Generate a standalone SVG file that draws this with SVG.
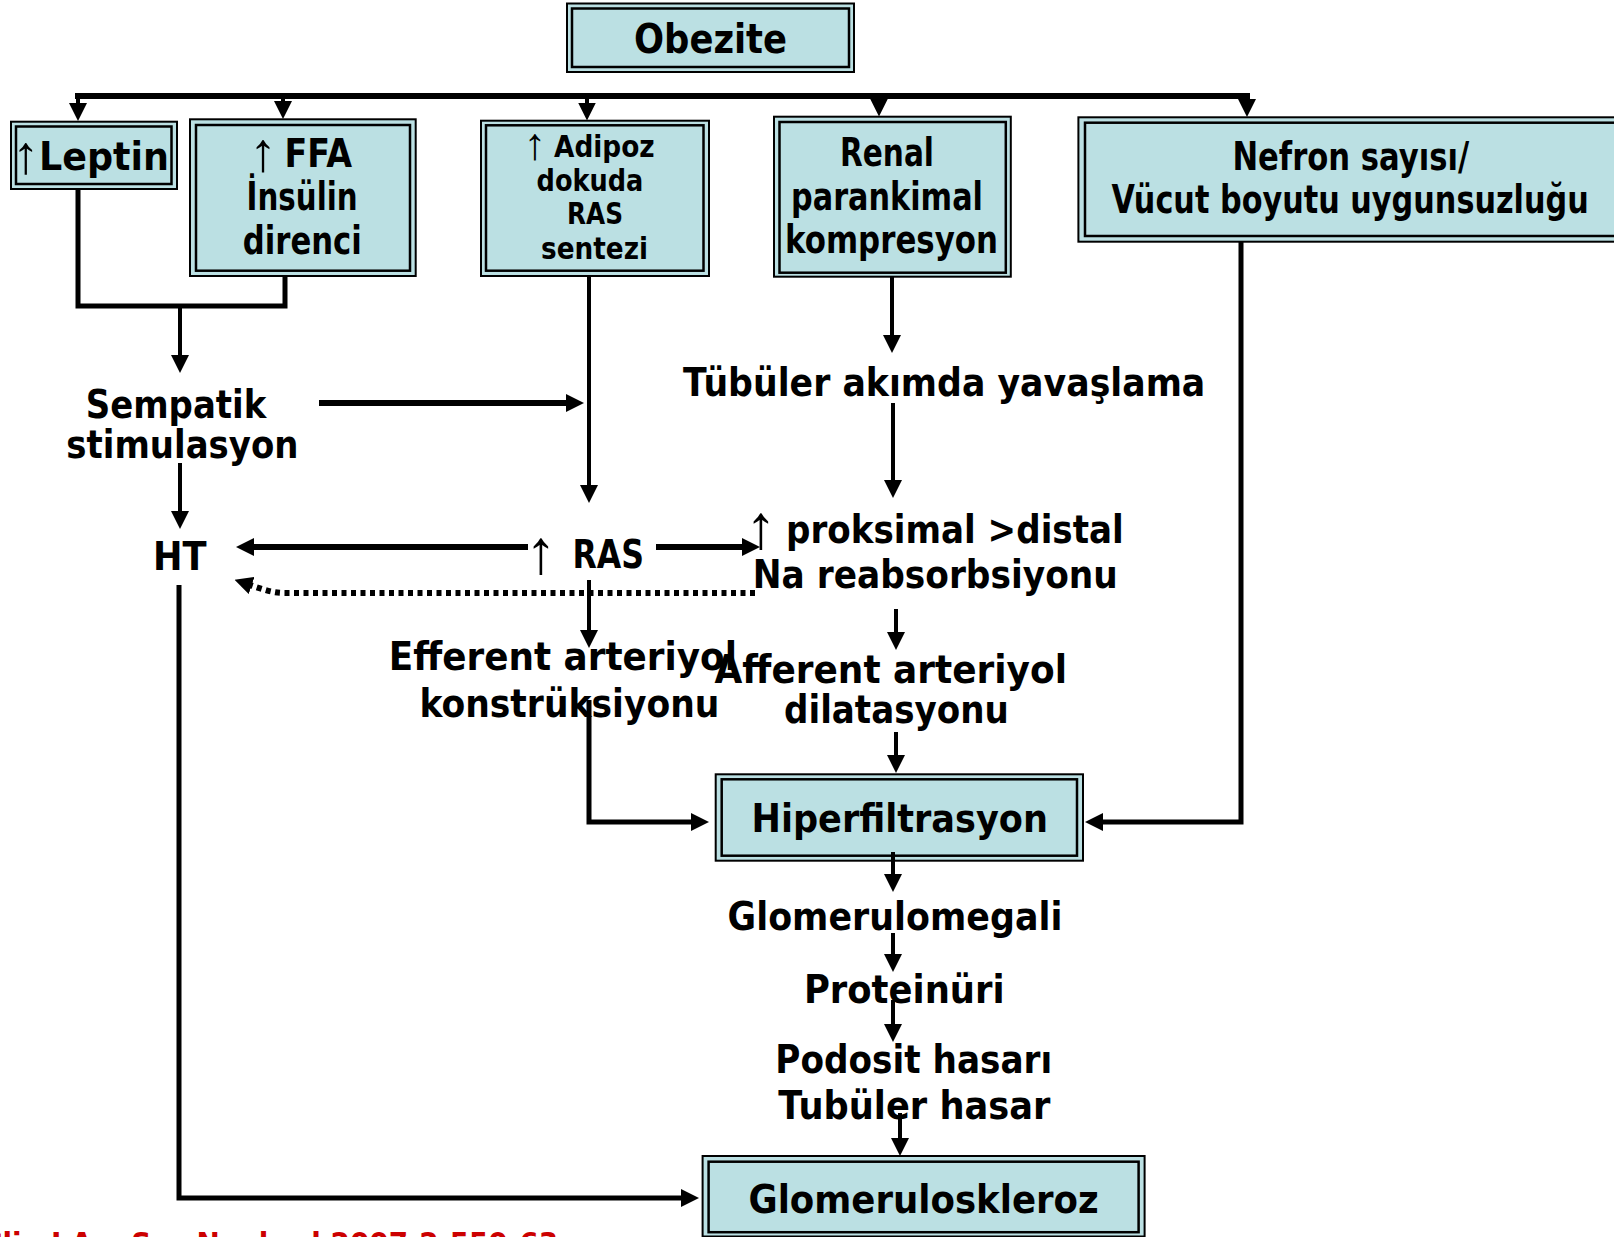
<svg xmlns="http://www.w3.org/2000/svg" width="1614" height="1237" viewBox="0 0 1614 1237">
  <style>
    rect.o { fill: #bbe0e3; stroke: #000; stroke-width: 2; }
    rect.i { fill: none; stroke: #000; stroke-width: 2.5; }
    text { font-family: "DejaVu Sans", "Liberation Sans", sans-serif; font-weight: bold; font-size: 39px; fill: #000; }
    text.sm { font-size: 31px; }
    text.up { font-family: "Liberation Sans", sans-serif; font-weight: normal; text-anchor: middle; }
    text.ref { font-size: 30px; fill: #cc0000; }
    .c { fill: none; stroke: #000; stroke-linejoin: miter; }
    .w6 { stroke-width: 6; }
    .w5 { stroke-width: 5; }
    .w4 { stroke-width: 4; }
    .dot { stroke-width: 6; stroke-dasharray: 5 4.5; }
  </style>
  <defs>
    <marker id="ah" viewBox="0 0 18 18" markerWidth="18" markerHeight="18" markerUnits="userSpaceOnUse" refX="8" refY="9" orient="auto">
      <path d="M0,0 L18,9 L0,18 Z" fill="#000"/>
    </marker>
  </defs>

  <rect width="1614" height="1237" fill="#fff"/>

  <!-- top node -->
  <g id="obezite">
    <rect class="o" x="567" y="3.5" width="287" height="68.5"/>
    <rect class="i" x="572" y="8.5" width="277" height="58.5"/>
    <text x="634" y="53.3" style="font-size:40px" textLength="153" lengthAdjust="spacingAndGlyphs">Obezite</text>
  </g>

  <!-- first row of causes -->
  <g id="leptin">
    <rect class="o" x="11" y="121.7" width="166" height="67.3"/>
    <rect class="i" x="16" y="126.5" width="155.5" height="57.5"/>
    <text class="up" x="26" y="173" style="font-size:54px">↑</text>
    <text x="39" y="170" textLength="130" lengthAdjust="spacingAndGlyphs">Leptin</text>
  </g>

  <g id="ffa">
    <rect class="o" x="190" y="119.3" width="225.7" height="156.7"/>
    <rect class="i" x="196" y="125" width="214" height="145.7"/>
    <text class="up" x="263" y="171" style="font-size:55px">↑</text>
    <text x="284.5" y="166.7" textLength="67.5" lengthAdjust="spacingAndGlyphs">FFA</text>
    <text x="246.6" y="210" textLength="111" lengthAdjust="spacingAndGlyphs">İnsülin</text>
    <text x="242.8" y="254" textLength="119" lengthAdjust="spacingAndGlyphs">direnci</text>
  </g>

  <g id="adipoz">
    <rect class="o" x="481" y="120.7" width="228" height="155.3"/>
    <rect class="i" x="486" y="125.3" width="217.5" height="145.4"/>
    <text class="up" x="535" y="159" style="font-size:45px">↑</text>
    <text class="sm" x="554" y="156.7" textLength="100.7" lengthAdjust="spacingAndGlyphs">Adipoz</text>
    <text class="sm" x="536.6" y="190.7" textLength="106.8" lengthAdjust="spacingAndGlyphs">dokuda</text>
    <text class="sm" x="567" y="224" textLength="56" lengthAdjust="spacingAndGlyphs">RAS</text>
    <text class="sm" x="541" y="259.3" textLength="107" lengthAdjust="spacingAndGlyphs">sentezi</text>
  </g>

  <g id="renal">
    <rect class="o" x="774" y="116.7" width="236.8" height="160"/>
    <rect class="i" x="779.5" y="122" width="226.3" height="150.7"/>
    <text x="840" y="166" textLength="94" lengthAdjust="spacingAndGlyphs">Renal</text>
    <text x="791" y="210" textLength="192" lengthAdjust="spacingAndGlyphs">parankimal</text>
    <text x="785" y="253" textLength="213" lengthAdjust="spacingAndGlyphs">kompresyon</text>
  </g>

  <g id="nefron">
    <rect class="o" x="1078.4" y="117.3" width="560" height="124.4"/>
    <rect class="i" x="1085" y="122.7" width="550" height="113.3"/>
    <text x="1232.4" y="170" textLength="236.9" lengthAdjust="spacingAndGlyphs">Nefron sayısı/</text>
    <text x="1111.5" y="213.3" textLength="477.3" lengthAdjust="spacingAndGlyphs">Vücut boyutu uygunsuzluğu</text>
  </g>

  <!-- intermediate states -->
  <g id="sempatik">
    <text x="85.7" y="418.3" textLength="180.6" lengthAdjust="spacingAndGlyphs">Sempatik</text>
    <text x="66.3" y="458.3" textLength="232.2" lengthAdjust="spacingAndGlyphs">stimulasyon</text>
  </g>

  <g id="tubuler-akim">
    <text x="683" y="396" textLength="522.3" lengthAdjust="spacingAndGlyphs">Tübüler akımda yavaşlama</text>
  </g>

  <g id="ht">
    <text x="153" y="570" textLength="53.6" lengthAdjust="spacingAndGlyphs">HT</text>
  </g>

  <g id="ras">
    <text class="up" x="541" y="573" style="font-size:62px">↑</text>
    <text x="572.4" y="568.3" textLength="71.6" lengthAdjust="spacingAndGlyphs">RAS</text>
  </g>

  <g id="na-reabsorbsiyon">
    <text class="up" x="761" y="548" style="font-size:62px">↑</text>
    <text x="786" y="543.3" textLength="337.7" lengthAdjust="spacingAndGlyphs">proksimal &gt;distal</text>
    <text x="752.7" y="588.3" textLength="365.1" lengthAdjust="spacingAndGlyphs">Na reabsorbsiyonu</text>
  </g>

  <g id="efferent">
    <text x="388.8" y="670" textLength="348.2" lengthAdjust="spacingAndGlyphs">Efferent arteriyol</text>
    <text x="419.4" y="716.7" textLength="300" lengthAdjust="spacingAndGlyphs">konstrüksiyonu</text>
  </g>

  <g id="afferent">
    <text x="714.5" y="683.3" textLength="352.5" lengthAdjust="spacingAndGlyphs">Afferent arteriyol</text>
    <text x="784" y="723.3" textLength="224.8" lengthAdjust="spacingAndGlyphs">dilatasyonu</text>
  </g>

  <g id="hiperfiltrasyon">
    <rect class="o" x="715.7" y="774.3" width="367.3" height="86.4"/>
    <rect class="i" x="721.7" y="779.3" width="355.3" height="76.4"/>
    <text x="751.5" y="831.7" textLength="296.5" lengthAdjust="spacingAndGlyphs">Hiperfiltrasyon</text>
  </g>

  <g id="glomerulomegali">
    <text x="727.6" y="930" textLength="334.8" lengthAdjust="spacingAndGlyphs">Glomerulomegali</text>
  </g>

  <g id="proteinuri">
    <text x="803.9" y="1003.3" textLength="200.7" lengthAdjust="spacingAndGlyphs">Proteinüri</text>
  </g>

  <g id="hasar">
    <text x="775.3" y="1073.3" textLength="276.9" lengthAdjust="spacingAndGlyphs">Podosit hasarı</text>
    <text x="778.3" y="1119" textLength="272.2" lengthAdjust="spacingAndGlyphs">Tubüler hasar</text>
  </g>

  <g id="glomeruloskleroz">
    <rect class="o" x="702.6" y="1156" width="442" height="80.5"/>
    <rect class="i" x="708.6" y="1161.7" width="430" height="70.5"/>
    <text x="748.5" y="1213.3" textLength="350.2" lengthAdjust="spacingAndGlyphs">Glomeruloskleroz</text>
  </g>

  <!-- citation along the lower edge -->
  <g id="reference">
    <text class="ref" x="-18" y="1254" textLength="576" lengthAdjust="spacingAndGlyphs">Clin J Am Soc Nephrol 2007;2:550-63</text>
  </g>

  <!-- connectors -->
  <g id="connectors">
    <path class="c w6" d="M75,96 H1250"/>
    <path class="c w4" d="M78,96 V111" marker-end="url(#ah)"/>
    <path class="c w4" d="M283,96 V109" marker-end="url(#ah)"/>
    <path class="c w4" d="M587,96 V110.5" marker-end="url(#ah)"/>
    <path class="c w4" d="M879,96 V106.5" marker-end="url(#ah)"/>
    <path class="c w4" d="M1247,96 V107" marker-end="url(#ah)"/>

    <path class="c w5" d="M78,189 V306 H285 V276"/>
    <path class="c w4" d="M180,306 V363" marker-end="url(#ah)"/>
    <path class="c w4" d="M180,463 V519" marker-end="url(#ah)"/>
    <path class="c w6" d="M319,403 H574" marker-end="url(#ah)"/>
    <path class="c w4" d="M589,276 V493" marker-end="url(#ah)"/>

    <path class="c w6" d="M528,547 H246" marker-end="url(#ah)"/>
    <path class="c w6" d="M656,547 H750" marker-end="url(#ah)"/>
    <path class="c dot" d="M755,593 H285 C272,593 262,589 244,583" marker-end="url(#ah)"/>

    <path class="c w4" d="M589,580 V638" marker-end="url(#ah)"/>
    <path class="c w5" d="M589,700 V822 H699" marker-end="url(#ah)"/>

    <path class="c w4" d="M892,277 V343" marker-end="url(#ah)"/>
    <path class="c w4" d="M893,403 V488" marker-end="url(#ah)"/>
    <path class="c w4" d="M896,609 V640" marker-end="url(#ah)"/>
    <path class="c w4" d="M896,732 V763" marker-end="url(#ah)"/>

    <path class="c w5" d="M1241,242 V822 H1095" marker-end="url(#ah)"/>

    <path class="c w4" d="M893,852 V882" marker-end="url(#ah)"/>
    <path class="c w4" d="M893,933 V962" marker-end="url(#ah)"/>
    <path class="c w4" d="M893,1000 V1032" marker-end="url(#ah)"/>
    <path class="c w4" d="M900,1113 V1146" marker-end="url(#ah)"/>

    <path class="c w5" d="M179,585 V1198 H689" marker-end="url(#ah)"/>
  </g>
</svg>
